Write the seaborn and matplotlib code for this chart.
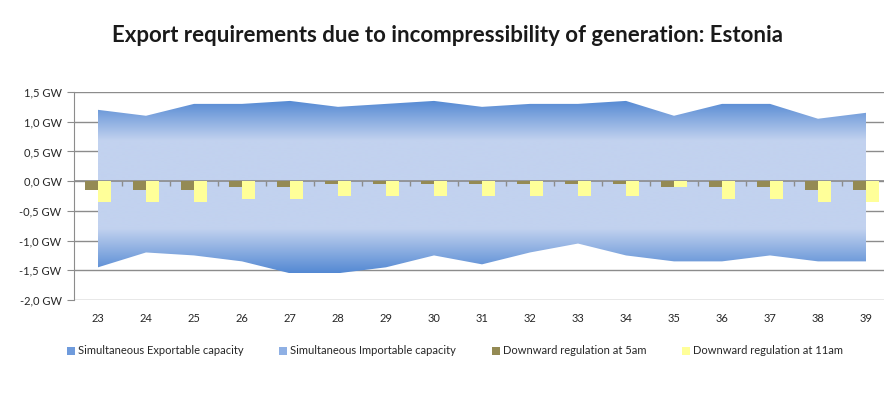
import numpy as np
import pandas as pd
import seaborn as sns
import matplotlib.pyplot as plt
from matplotlib.colors import LinearSegmentedColormap
from matplotlib.patches import Patch
from matplotlib.ticker import FuncFormatter

weeks = [str(w) for w in range(23, 40)]
export_cap = [1.2, 1.1, 1.3, 1.3, 1.35, 1.25, 1.3, 1.35, 1.25, 1.3, 1.3, 1.35, 1.1, 1.3, 1.3, 1.05, 1.15]
import_cap = [-1.45, -1.2, -1.25, -1.35, -1.55, -1.55, -1.45, -1.25, -1.4, -1.2, -1.05, -1.25, -1.35, -1.35, -1.25, -1.35, -1.35]
reg_5am = [-0.15, -0.15, -0.15, -0.1, -0.1, -0.05, -0.05, -0.05, -0.05, -0.05, -0.05, -0.05, -0.1, -0.1, -0.1, -0.15, -0.15]
reg_11am = [-0.35, -0.35, -0.35, -0.3, -0.3, -0.25, -0.25, -0.25, -0.25, -0.25, -0.25, -0.25, -0.1, -0.3, -0.3, -0.35, -0.35]

labels = ["Simultaneous Exportable capacity", "Simultaneous Importable capacity",
          "Downward regulation at 5am", "Downward regulation at 11am"]

sns.set_style("white")
plt.rcParams['font.family'] = ['Lato', 'DejaVu Sans']

fig = plt.figure(figsize=(8.84, 3.96), dpi=100)
ax = fig.add_axes([74 / 884, 1 - 300 / 396, 816 / 884, 208 / 396])

x = np.arange(len(weeks))
light = "#c2d2ef"
dark = "#5489d3"

# gradient-filled areas, clipped to the fill_between polygons
def gradient_area(vals, stops):
    poly = ax.fill_between(x, 0, vals, color="none", linewidth=0, zorder=1)
    cmap = LinearSegmentedColormap.from_list("g", stops)
    ymin, ymax = min(0, min(vals)), max(0, max(vals))
    grad = np.linspace(0, 1, 256).reshape(-1, 1)
    im = ax.imshow(grad, cmap=cmap, aspect="auto", origin="lower",
                   extent=(x[0], x[-1], ymin, ymax), zorder=1, interpolation="bilinear")
    im.set_clip_path(poly.get_paths()[0], ax.transData)

gradient_area(export_cap, [(0, light), (0.5, light), (1, dark)])
gradient_area(import_cap, [(0, dark), (0.48, light), (1, light)])

df = pd.DataFrame({
    "week": weeks * 2,
    "series": [labels[2]] * len(weeks) + [labels[3]] * len(weeks),
    "value": reg_5am + reg_11am,
})
sns.barplot(data=df, x="week", y="value", hue="series", ax=ax,
            palette={labels[2]: "#948a54", labels[3]: "#ffff99"},
            width=0.56, gap=0, legend=False, saturation=1, zorder=3,
            linewidth=0, edgecolor="none")

ax.set_xlim(-0.5, len(weeks) - 0.5)
ax.set_ylim(-2.0, 1.5)
ax.set_yticks(np.arange(-2.0, 1.51, 0.5))
ax.yaxis.set_major_formatter(FuncFormatter(lambda v, p: f"{v:.1f}".replace(".", ",") + " GW"))
ax.yaxis.grid(True, color="#8c8c8c", linewidth=1, zorder=0)
ax.set_axisbelow(True)
ax.axhline(0, color="#8c8c8c", linewidth=1.2, zorder=2)
ax.vlines(x[:-1] + 0.5, -0.09, 0, color="#8c8c8c", linewidth=1, zorder=2)

for s in ["top", "right", "bottom"]:
    ax.spines[s].set_visible(False)
ax.spines["left"].set_color("#8c8c8c")
ax.tick_params(axis="y", length=5, color="#8c8c8c", labelsize=8, labelcolor="#262626", pad=4, left=True)
ax.tick_params(axis="x", length=0, labelsize=8, labelcolor="#262626", pad=9)
ax.set_xlabel("")
ax.set_ylabel("")

fig.text(448 / 884, 1 - 35 / 396, "Export requirements due to incompressibility of generation: Estonia",
         ha="center", va="center", fontsize=16, fontweight="bold", color="#1a1a1a")

handles = [Patch(facecolor="#6f9bdc", edgecolor="none"),
           Patch(facecolor="#8fb0e4", edgecolor="none"),
           Patch(facecolor="#948a54", edgecolor="none"),
           Patch(facecolor="#ffff99", edgecolor="none")]
fig.legend(handles, labels, loc="center", bbox_to_anchor=(455 / 884, 1 - 351 / 396), ncol=4,
           frameon=False, fontsize=8, handlelength=0.7, handleheight=0.7,
           handletextpad=0.3, columnspacing=3.2, labelcolor="#262626")

fig.savefig("out.png", dpi=100)
